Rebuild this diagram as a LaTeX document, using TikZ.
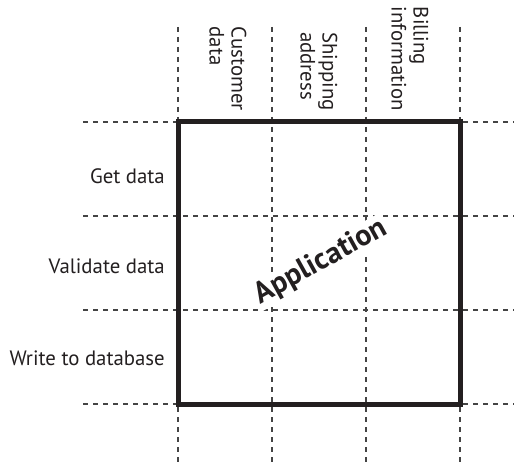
\documentclass[tikz,border=0pt]{standalone}
\usepackage{fontspec}
\setmainfont{PT Sans}
\definecolor{ink}{HTML}{231F20}
\definecolor{gridgray}{HTML}{444444}
\begin{document}
\begin{tikzpicture}[x=1pt,y=-1pt,
  gridline/.style={draw=gridgray, line width=1.3pt, dash pattern=on 5pt off 5pt},
  boxline/.style={draw=ink, line width=5pt},
  lbl/.style={font=\fontsize{20.8}{22}\selectfont, text=ink, inner sep=0pt},
  rowlabel/.style={lbl, anchor=base east},
  collabel/.style={lbl, rotate=-90, anchor=east, align=left},
  apptext/.style={font=\fontsize{30}{34}\selectfont\bfseries, text=ink, fill=white, inner sep=1pt, rotate=29}
]
\useasboundingbox (0,0) rectangle (514,465);
% grid coordinates
\foreach \n/\x in {c0/178,c1/272,c2/366,c3/460}{
  \coordinate (\n top) at (\x,27);
  \coordinate (\n bot) at (\x,465);
}
\foreach \n/\y in {r0/122,r1/216,r2/310,r3/404}{
  \coordinate (\n left) at (83,\y);
  \coordinate (\n right) at (514,\y);
}
\foreach \n in {c0,c1,c2,c3}{ \draw[gridline] (\n top) -- (\n bot); }
\foreach \n in {r0,r1,r2,r3}{ \draw[gridline] (\n left) -- (\n right); }
% application label
\node[apptext] (app) at (321,262) {Application};
% box
\coordinate (boxnw) at (178,122);
\coordinate (boxse) at (460,404);
\draw[boxline] (boxnw) rectangle (boxse);
% row labels
\node[rowlabel] (get) at (165,184) {Get data};
\node[rowlabel] (validate) at (165,273) {Validate data};
\node[rowlabel] (write) at (165,365) {Write to database};
% column labels
\node[collabel] (cust) at (225,111) {\strut Customer\\\strut data};
\node[collabel] (ship) at (316,111) {\strut Shipping\\\strut address};
\node[collabel] (bill) at (407,111) {\strut Billing\\\strut information};
\end{tikzpicture}
\end{document}
